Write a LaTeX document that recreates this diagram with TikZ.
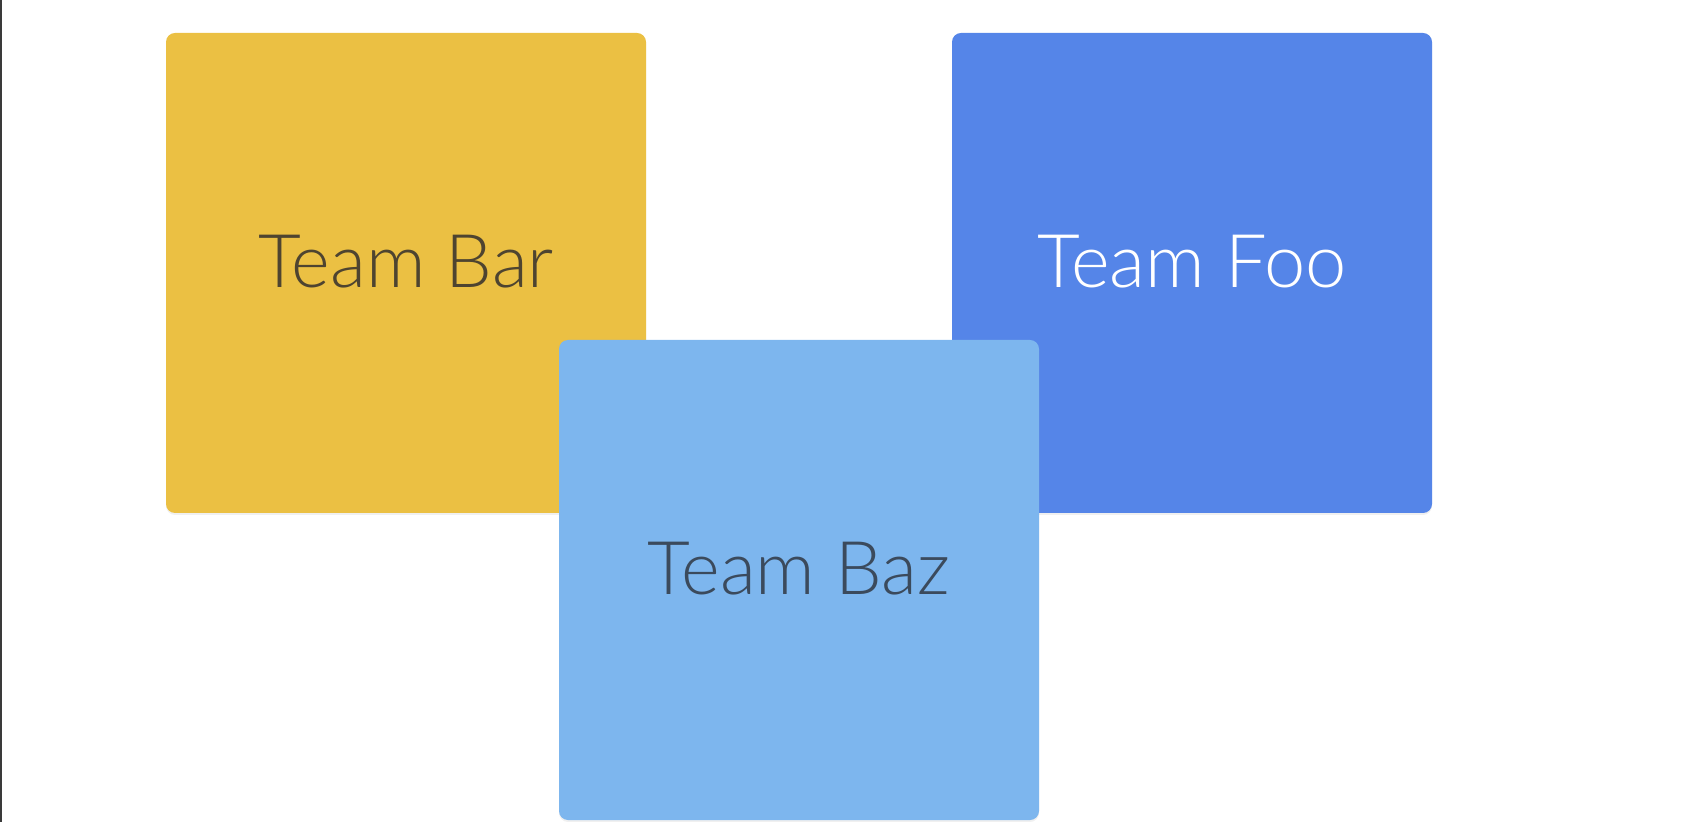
\documentclass[tikz,border=0pt]{standalone}
\usepackage{fontspec}
\setmainfont{Lato}[UprightFont=* Light]
\usetikzlibrary{shadows}
\definecolor{baryellow}{HTML}{EBC043}
\definecolor{fooblue}{HTML}{5585E8}
\definecolor{bazblue}{HTML}{7DB6EE}
\definecolor{bartext}{HTML}{4E4430}
\definecolor{baztext}{HTML}{3B4A5C}
\definecolor{framegray}{HTML}{3A3A3A}
\begin{document}
\begin{tikzpicture}[x=0.5pt,y=-0.5pt,
  teambox/.style={rectangle, rounded corners=4.5pt, minimum width=240pt, minimum height=240pt,
    inner sep=0pt, font=\fontsize{37}{40}\selectfont, text depth=12pt,
    drop shadow={opacity=0.12, shadow xshift=0pt, shadow yshift=-1pt}}]
\useasboundingbox (0,0) rectangle (1684,822);
\draw[framegray, line width=1pt] (1,0) -- (1,822);
\node[teambox, fill=baryellow, text=bartext] (bar) at (406,273) {Team Bar};
\node[teambox, fill=fooblue, text=white] (foo) at (1192,273) {Team Foo};
\node[teambox, fill=bazblue, text=baztext] (baz) at (799,580) {Team Baz};
\end{tikzpicture}
\end{document}
